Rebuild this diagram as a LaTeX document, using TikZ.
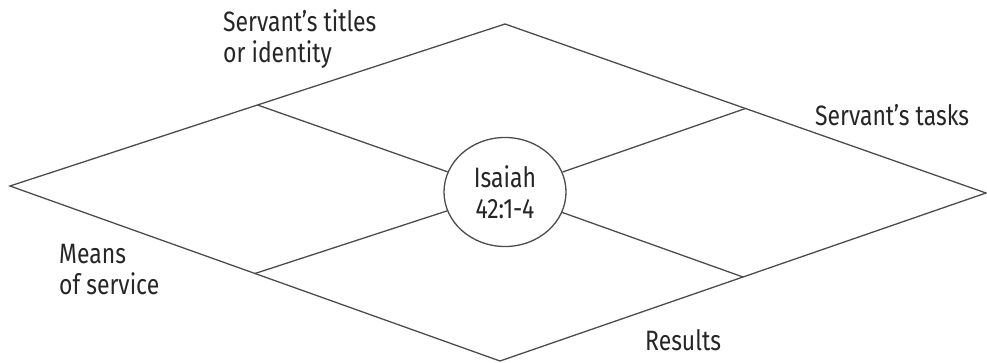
\documentclass[tikz,border=0pt]{standalone}
\usepackage{fontspec}
\setmainfont[FakeStretch=0.82]{Fira Sans}
\usetikzlibrary{shapes.geometric,calc}
\begin{document}
\begin{tikzpicture}[x=1pt,y=-1pt,
  edge/.style={line width=1.3pt, draw=black!70},
  lbl/.style={inner sep=0pt, font=\fontsize{28}{31}\selectfont, text=black!85, align=left, anchor=north west},
]
\useasboundingbox (0,0) rectangle (987,363);
\coordinate (T) at (505,24);
\coordinate (R) at (986,193);
\coordinate (B) at (500,361);
\coordinate (L) at (10,186);
\draw[edge, line join=miter] (T) -- (R) -- (B) -- (L) -- cycle;
\coordinate (mTL) at ($(L)!0.5!(T)$);
\coordinate (mTR) at ($(T)!0.5!(R)$);
\coordinate (mBR) at ($(R)!0.5!(B)$);
\coordinate (mBL) at ($(B)!0.5!(L)$);
\node[ellipse, edge, draw, fill=white, minimum width=122pt, minimum height=109pt, inner sep=0pt,
  align=center, font=\fontsize{28}{31}\selectfont, text=black!85] (C) at (505,192) {Isaiah\\42:1-4};
\draw[edge] (mTL) -- (C);
\draw[edge] (mTR) -- (C);
\draw[edge] (mBR) -- (C);
\draw[edge] (mBL) -- (C);
\node[lbl] (titles) at (223,9) {Servant’s titles\\or identity};
\node[lbl] (tasks) at (815,104) {Servant’s tasks};
\node[lbl] (means) at (59,244) {Means\\of service};
\node[lbl] (results) at (645,329) {Results};
\end{tikzpicture}
\end{document}
